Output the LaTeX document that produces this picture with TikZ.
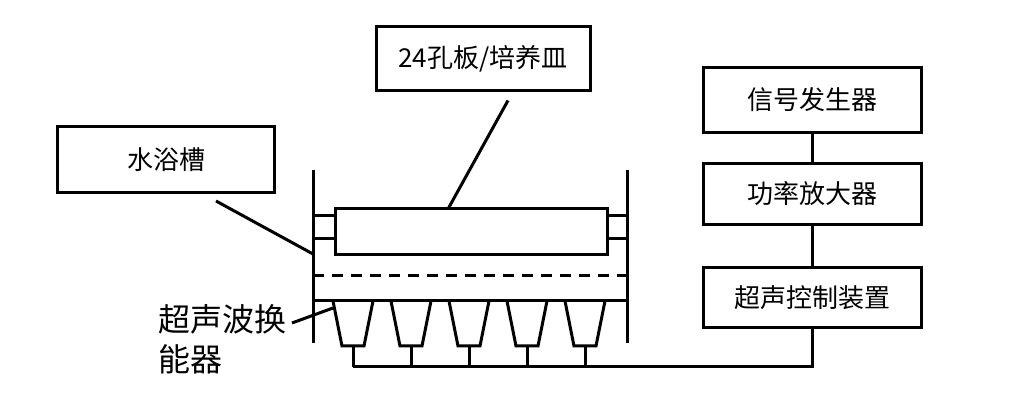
\documentclass[tikz,border=0pt]{standalone}
\usepackage{fontspec}
\setmainfont{Noto Sans CJK SC}
\usetikzlibrary{positioning}

\begin{document}
\begin{tikzpicture}[x=1pt,y=-1pt,line width=3pt]

	\tikzstyle{lbl} = [rectangle, draw=black, line width=3pt, inner sep=0pt, font=\fontsize{26}{30}\selectfont]

	\useasboundingbox (0,0) rectangle (1013,403);

	% labelled boxes
	\node [lbl, minimum width=214pt, minimum height=64pt] (plate lbl) at (483,59) {24孔板/培养皿};
	\node [lbl, minimum width=217pt, minimum height=66pt] (bath lbl) at (166,160) {水浴槽};
	\node [lbl, minimum width=218pt, minimum height=65pt] (gen) at (812,100) {信号发生器};
	\node [lbl, minimum width=218pt, minimum height=61pt] (amp) at (812,194) {功率放大器};
	\node [lbl, minimum width=218pt, minimum height=60pt] (ctrl) at (812,298) {超声控制装置};
	\node [align=left, inner sep=0pt, font=\fontsize{32}{40}\selectfont, anchor=north west] (trans lbl) at (157,303) {超声波换\\能器};

	% tank
	\coordinate (wl top) at (313,170);
	\coordinate (wl bot) at (313,343);
	\coordinate (wr top) at (627,170);
	\coordinate (wr bot) at (627,343);
	\draw (wl top) -- (wl bot);
	\draw (wr top) -- (wr bot);
	\node [draw, line width=3pt, minimum width=272pt, minimum height=46pt, inner sep=0pt] (plate) at (471,232) {};
	\foreach \y in {216,239} {
		\draw (313,\y) -- (plate.west |- 0,\y);
		\draw (plate.east |- 0,\y) -- (627,\y);
	}
	\draw [dash pattern=on 11pt off 8pt] (313,276) -- (627,276);
	\draw (313,301) -- (627,301);

	% transducers
	\foreach \x [count=\i] in {353,411,469,527,585} {
		\draw (\x-20,301) -- (\x-11,346) -- (\x+11,346) -- (\x+20,301);
		\coordinate (td\i) at (\x,367);
		\draw (\x,346) -- (td\i);
	}
	\draw (td1) -- (ctrl.south |- td1) -- (ctrl.south);

	% leaders
	\draw (gen) -- (amp);
	\draw (amp) -- (ctrl);
	\draw (plate lbl.south) ++(25,8) -- (448,209);
	\draw (216,201) -- (wl top |- 0,254);
	\draw (292,323) -- (333,308);
\end{tikzpicture}
\end{document}
